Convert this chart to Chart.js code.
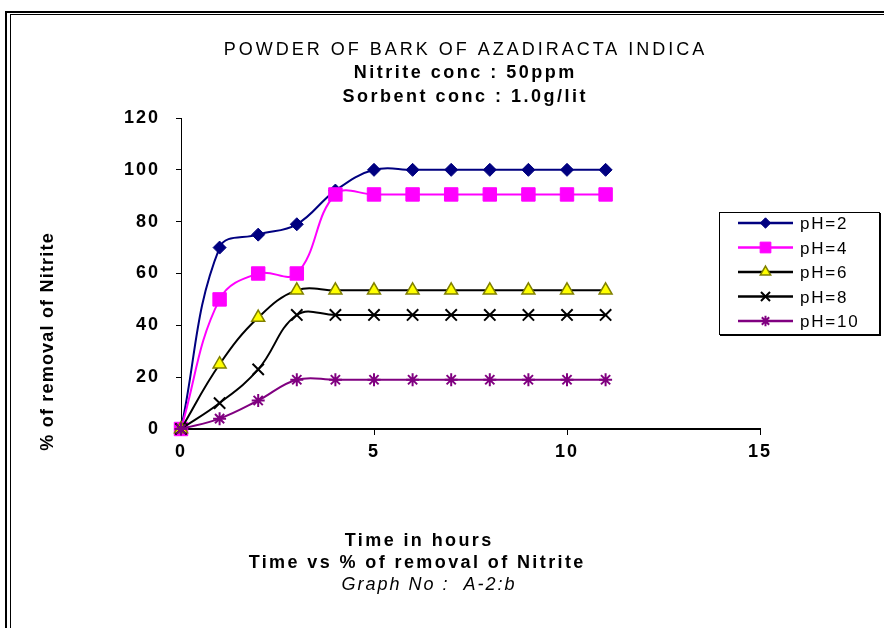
<!DOCTYPE html>
<html><head><meta charset="utf-8">
<script src="https://cdn.jsdelivr.net/npm/chart.js@4/dist/chart.umd.min.js"></script>
<style>html,body{margin:0;padding:0;background:#fff}canvas{display:block}</style>
</head><body>
<canvas id="c" width="884" height="628"></canvas>
<script>
const hours = [0,1,2,3,4,5,6,7,8,9,10,11];
const seriesLabels = ['pH=2','pH=4','pH=6','pH=8','pH=10'];
const ph2  = [0,70,75,79,92,100,100,100,100,100,100,100];
const ph4  = [0,50,60,60,90.5,90.5,90.5,90.5,90.5,90.5,90.5,90.5];
const ph6  = [0,25,43,53.5,53.5,53.5,53.5,53.5,53.5,53.5,53.5,53.5];
const ph8  = [0,10,23,44,44,44,44,44,44,44,44,44];
const ph10 = [0,4,11,19,19,19,19,19,19,19,19,19];
const xTickValues = [0,5,10,15];
const yTickValues = [0,20,40,60,80,100,120];
const titleLines = ['POWDER OF BARK OF AZADIRACTA INDICA','Nitrite conc : 50ppm','Sorbent conc : 1.0g/lit'];
const xAxisTitle = 'Time in hours';
const captionLines = ['Time vs % of removal of Nitrite','Graph No :  A-2:b'];
const yAxisTitle = '% of removal of Nitrite';

const FAM = '"Liberation Sans", Arial, sans-serif';
const styles = [
  {color:'#000080', fill:'#000080', line:'#000080', point:'rectRot', r:6.5, bw:1},
  {color:'#FF00FF', fill:'#FF00FF', line:'#FF00FF', point:'rect', r:9.5, bw:1},
  {color:'#808000', fill:'#FFFF00', line:'#000000', point:'triangle', r:7.5, bw:1.5},
  {color:'#000000', fill:'#000000', line:'#000000', point:'crossRot', r:8, bw:2},
  {color:'#800080', fill:'#800080', line:'#800080', point:'star', r:6.5, bw:2}
];
const seriesValues = [ph2, ph4, ph6, ph8, ph10];

const datasets = seriesValues.map((vals, k) => ({
  label: seriesLabels[k],
  data: hours.map((h, i) => ({x: h, y: vals[i]})),
  borderColor: styles[k].line,
  backgroundColor: styles[k].fill,
  pointStyle: styles[k].point,
  pointRadius: styles[k].r,
  pointBorderColor: styles[k].color,
  pointBackgroundColor: styles[k].fill,
  pointBorderWidth: styles[k].bw,
  borderWidth: 2,
  tension: 0.4,
  order: 4 - k,
  clip: false
}));

function txt(ctx, s, x, y, font, align, sp) {
  ctx.save();
  ctx.font = font; ctx.fillStyle = '#000'; ctx.textAlign = align; ctx.textBaseline = 'alphabetic';
  ctx.letterSpacing = sp + 'px';
  ctx.fillText(s, x + (align === 'center' ? sp / 2 : 0), y);
  ctx.restore();
}

const deco = {
  id: 'deco',
  beforeDraw(chart) {
    const ctx = chart.ctx;
    ctx.save();
    ctx.fillStyle = '#fff';
    ctx.fillRect(0, 0, chart.width, chart.height);
    ctx.fillStyle = '#000';
    ctx.fillRect(5, 11, chart.width - 5, 2);
    ctx.fillRect(5, 11, 2, chart.height - 11);
    ctx.fillRect(10, 14, chart.width - 10, 1);
    ctx.fillRect(10, 14, 1, chart.height - 14);
    ctx.restore();
    ctx.letterSpacing = '2px';
  },
  beforeDatasetsDraw(chart) {
    chart.ctx.letterSpacing = '0px';
  },
  afterDraw(chart) {
    const ctx = chart.ctx;
    txt(ctx, titleLines[0], 464, 55, '18px ' + FAM, 'center', 3);
    txt(ctx, titleLines[1], 464, 78, 'bold 18px ' + FAM, 'center', 2.5);
    txt(ctx, titleLines[2], 464, 102, 'bold 18px ' + FAM, 'center', 2.5);
    txt(ctx, xAxisTitle, 418, 546, 'bold 18px ' + FAM, 'center', 2.4);
    txt(ctx, captionLines[0], 416, 568, 'bold 18px ' + FAM, 'center', 2.4);
    txt(ctx, captionLines[1], 428, 590, 'italic 18px ' + FAM, 'center', 2);
    ctx.save();
    ctx.translate(53, 342);
    ctx.rotate(-Math.PI / 2);
    txt(ctx, yAxisTitle, 0, 0, 'bold 18px ' + FAM, 'center', 1.2);
    ctx.restore();
    // legend
    ctx.save();
    ctx.strokeStyle = '#000';
    ctx.lineWidth = 1;
    ctx.strokeRect(719.5, 212.5, 160, 122);
    ctx.fillStyle = '#000';
    ctx.fillRect(879, 213, 2, 123);
    ctx.fillRect(720, 334, 161, 2);
    chart.data.datasets.forEach((ds, i) => {
      const y = 223 + i * 24.5;
      ctx.beginPath();
      ctx.strokeStyle = ds.borderColor;
      ctx.lineWidth = 2.5;
      ctx.moveTo(738, y); ctx.lineTo(793, y); ctx.stroke();
      ctx.fillStyle = ds.pointBackgroundColor;
      ctx.strokeStyle = ds.pointBorderColor;
      ctx.lineWidth = ds.pointBorderWidth;
      Chart.helpers.drawPoint(ctx, {pointStyle: ds.pointStyle, radius: ds.pointRadius * 0.8, borderWidth: ds.pointBorderWidth, rotation: 0}, 765.5, y);
      txt(ctx, ds.label, 800, y + 6, '17px ' + FAM, 'left', 1.8);
    });
    ctx.restore();
  }
};

new Chart(document.getElementById('c'), {
  type: 'line',
  data: {datasets},
  options: {
    responsive: false,
    animation: false,
    layout: {padding: {top: 118, right: 124, left: 0, bottom: 0}},
    plugins: {legend: {display: false}, tooltip: {enabled: false}, title: {display: false}},
    scales: {
      x: {
        type: 'linear', min: 0, max: 15,
        afterBuildTicks: s => { s.ticks = xTickValues.map(v => ({value: v})); },
        ticks: {color: '#000', font: {family: FAM, size: 18, weight: 'bold'}, padding: 6, maxRotation: 0, autoSkip: false},
        grid: {drawOnChartArea: false, drawTicks: true, tickLength: 6, color: '#000', lineWidth: 1},
        border: {color: '#000', width: 2},
        afterFit: s => { s.height = 628 - 429; }
      },
      y: {
        type: 'linear', min: 0, max: 120,
        afterBuildTicks: s => { s.ticks = yTickValues.map(v => ({value: v})); },
        ticks: {color: '#000', font: {family: FAM, size: 18, weight: 'bold'}, padding: 16, autoSkip: false},
        grid: {drawOnChartArea: false, drawTicks: true, tickLength: 5, color: '#000', lineWidth: 1},
        border: {color: '#000', width: 1},
        afterFit: s => { s.width = 181; }
      }
    }
  },
  plugins: [deco]
});
</script>
</body></html>
